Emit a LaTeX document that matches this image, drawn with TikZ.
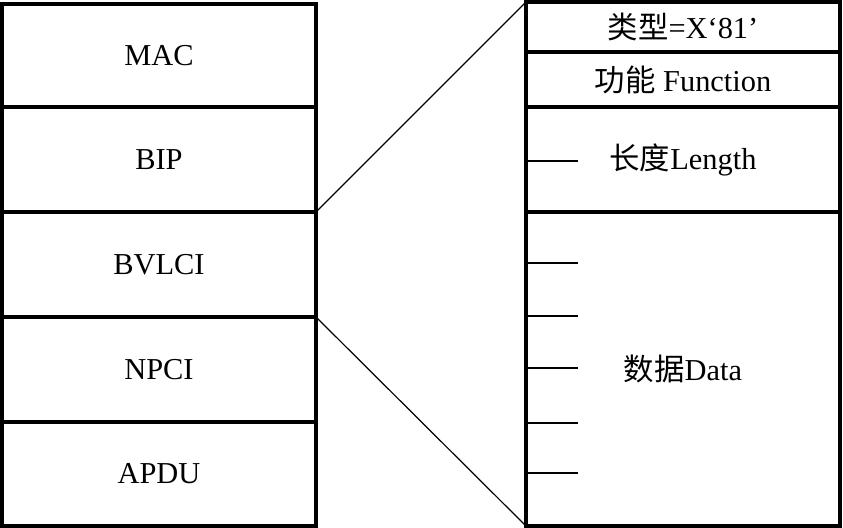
\documentclass[tikz,border=0pt]{standalone}
\usepackage{fontspec}
\setmainfont{Liberation Serif}
\newfontfamily\cjk{Noto Sans CJK SC}
\usetikzlibrary{positioning}

\begin{document}
\begin{tikzpicture}[
  x=0.75pt, y=-0.75pt,
  font=\fontsize{22.8}{27}\selectfont,
  layer/.style={rectangle, draw=black, line width=2.6pt, outer sep=0pt, inner sep=0pt,
                minimum width=235.5pt, align=center},
  field/.style={layer},
  tick/.style={draw=black, line width=1.3pt},
  zoomline/.style={draw=black, line width=0.9pt}
]
\useasboundingbox (0,0) rectangle (843,528);

% protocol stack
\node[layer, minimum height=77.25pt] (mac)   at (159, 55.5)  {MAC};
\node[layer, minimum height=78.75pt] (bip)   at (159, 159.5) {BIP};
\node[layer, minimum height=78.75pt] (bvlci) at (159, 264.5) {BVLCI};
\node[layer, minimum height=78.75pt] (npci)  at (159, 369.5) {NPCI};
\node[layer, minimum height=78pt]    (apdu)  at (159, 474)   {APDU};

% BVLCI frame
\node[field, minimum height=37.5pt]  (type) at (683, 27)    {{\cjk 类型}=X‘81’};
\node[field, minimum height=41.25pt] (func) at (683, 79.5)  {{\cjk 功能} Function};
\node[field, minimum height=78.75pt] (len)  at (683, 159.5) {{\cjk 长度}Length};
\node[field, minimum height=235.5pt] (data) at (683, 369)   {{\cjk 数据}Data};

% octet marks
\draw[tick] (len.west |- 0,161) -- ++(52,0);
\foreach \ty in {263,316,368,423,473}
  \draw[tick] (data.west |- 0,\ty) -- ++(52,0);

% expansion lines
\draw[zoomline] (bvlci.north east) -- (type.north west);
\draw[zoomline] (bvlci.south east) -- (data.south west);
\end{tikzpicture}
\end{document}
